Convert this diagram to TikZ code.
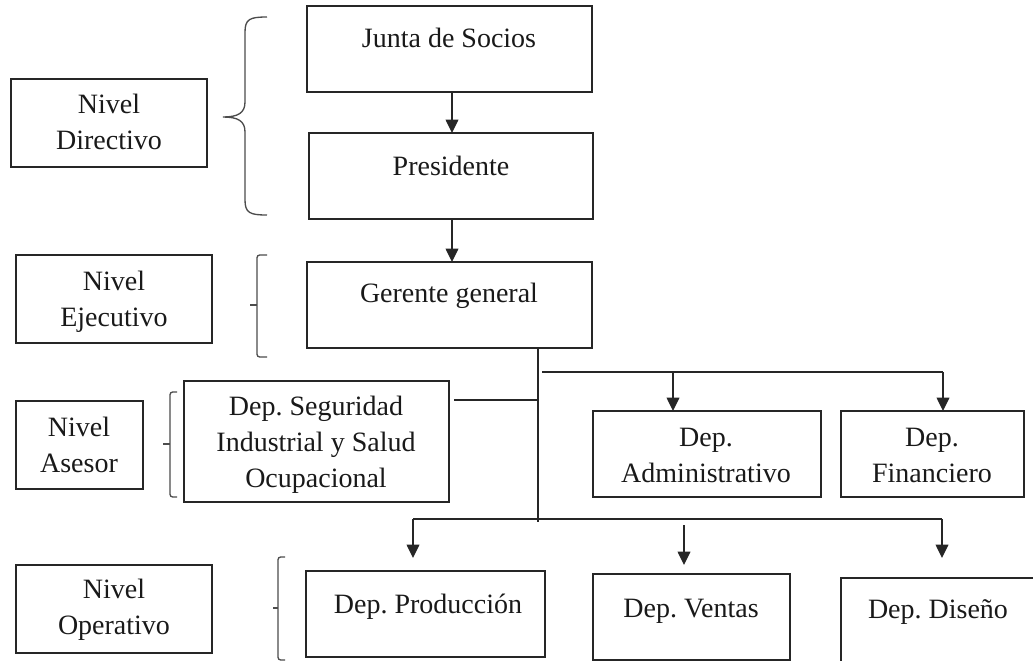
\documentclass[tikz,border=0pt]{standalone}
\usepackage{fontspec}
\setmainfont{Liberation Serif}
\usetikzlibrary{arrows.meta,calc}
\frenchspacing
\newcommand\orgbox[5]{\node[box, minimum width={(#4-#2)*0.75pt}, minimum height={(#5-#3)*0.75pt}] (#1) at ({(#2+#4)/2},{(#3+#5)/2}) {};}
\newcommand\twolines[2]{\begin{tabular}[t]{@{}c@{}}#1\\#2\end{tabular}}
\newcommand\threelines[3]{\begin{tabular}[t]{@{}c@{}}#1\\#2\\#3\end{tabular}}
\begin{document}
\begin{tikzpicture}[x=0.75pt,y=-0.75pt,
  box/.style={draw=black!85, line width=1.2pt, inner sep=0pt, outer sep=0pt, rectangle},
  txt/.style={anchor=base, inner sep=0pt, font=\fontsize{21}{27}\selectfont\frenchspacing, text=black!90},
  conn/.style={draw=black!85, line width=1.1pt},
  arr/.style={conn, -{Triangle[width=9.5pt,length=10pt]}},
  brace/.style={draw=black!70, line width=1pt, rounded corners=2pt}]
\useasboundingbox (0,0) rectangle (1033,661);
\clip (0,0) rectangle (1033,661);

% level boxes
\orgbox{ndir}{11}{79}{207}{167}
\orgbox{neje}{16}{255}{212}{343}
\orgbox{nase}{16}{401}{143}{489}
\orgbox{nope}{16}{565}{212}{653}
\node[txt] (tndir) at (109,113) {\twolines{Nivel}{Directivo}};
\node[txt] (tneje) at (114,290) {\twolines{Nivel}{Ejecutivo}};
\node[txt] (tnase) at (79,436) {\twolines{Nivel}{Asesor}};
\node[txt] (tnope) at (114,598) {\twolines{Nivel}{Operativo}};

% org boxes
\orgbox{junta}{307}{6}{592}{92}
\orgbox{pres}{309}{133}{593}{219}
\orgbox{ger}{307}{262}{592}{348}
\orgbox{seg}{184}{381}{449}{502}
\orgbox{adm}{593}{411}{821}{497}
\orgbox{fin}{841}{411}{1024}{497}
\orgbox{prod}{306}{571}{545}{657}
\orgbox{ven}{593}{574}{790}{660}
\orgbox{dis}{841}{578}{1070}{690}

\node[txt] (tjunta) at (449,47) {Junta de Socios};
\node[txt] (tpres) at (451,175) {Presidente};
\node[txt] (tger) at (449,302) {Gerente general};
\node[txt] (tseg) at (316,415) {\threelines{Dep. Seguridad}{Industrial y Salud}{Ocupacional}};
\node[txt] (tadm) at (706,446) {\twolines{Dep.}{Administrativo}};
\node[txt] (tfin) at (932,446) {\twolines{Dep.}{Financiero}};
\node[txt] (tprod) at (428,613) {Dep. Producción};
\node[txt] (tven) at (691,617) {Dep. Ventas};
\node[txt] (tdis) at (938,618) {Dep. Diseño};

% braces
\draw[brace, rounded corners=0pt] (267,17) .. controls (250,17) and (245,19) .. (245,32) -- (245,102) .. controls (245,113) and (238,117) .. (223,117) .. controls (238,117) and (245,121) .. (245,132) -- (245,200) .. controls (245,213) and (250,215) .. (267,215);
\draw[brace] (267,255) -- (257,255) -- (257,357) -- (267,357);
\draw[brace] (250,305) -- (257,305);
\draw[brace] (177,392) -- (170,392) -- (170,497) -- (177,497);
\draw[brace] (163,444) -- (170,444);
\draw[brace] (285,557) -- (278,557) -- (278,660) -- (285,660);
\draw[brace] (273,608) -- (278,608);

% connectors
\coordinate (ax) at (452,0);
\draw[arr] (junta.south -| ax) -- (pres.north -| ax);
\draw[arr] (pres.south -| ax) -- (ger.north -| ax);
\coordinate (trunkend) at (538,522);
\draw[conn] (ger.south -| trunkend) -- (trunkend);
\coordinate (segc) at (454,400);
\draw[conn] (segc) -- (segc -| trunkend);
\coordinate (tb) at (542,372);
\coordinate (tbr) at (943,372);
\draw[conn] (tb) -- (tbr);
\coordinate (admx) at (673,0);
\draw[arr] (tb -| admx) -- (adm.north -| admx);
\draw[arr] (tbr) -- (fin.north -| tbr);
\coordinate (bb) at (413,519);
\coordinate (bbr) at (942,519);
\draw[conn] (bb) -- (bbr);
\draw[arr, shorten >=9.75pt] (bb) -- (prod.north -| bb);
\coordinate (venx) at (684,525);
\draw[arr, shorten >=6.75pt] (venx) -- (ven.north -| venx);
\draw[arr, shorten >=15pt] (bbr) -- (dis.north -| bbr);
\end{tikzpicture}
\end{document}
